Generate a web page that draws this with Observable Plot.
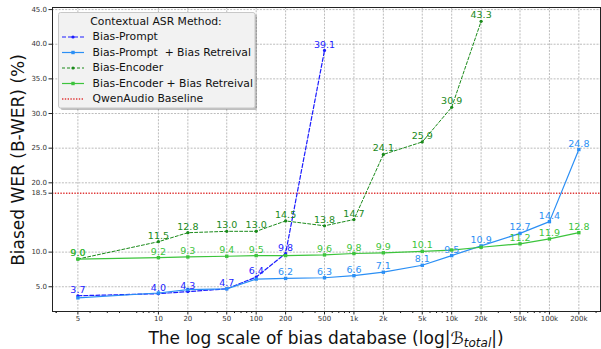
<!DOCTYPE html>
<html>
<head>
<meta charset="utf-8">
<script src="https://cdn.jsdelivr.net/npm/d3@7"></script>
<script src="https://cdn.jsdelivr.net/npm/@observablehq/plot@0.6"></script>
<style>
  html, body { margin: 0; padding: 0; background: #fff; }
  svg { display: block; }
</style>
</head>
<body>
<div id="chart"></div>
<script>
// ---------------- data ----------------
const sizes = [5, 10, 20, 50, 100, 200, 500, 1000, 2000, 5000, 10000, 20000, 50000, 100000, 200000];
const sizeLabels = ["5", "10", "20", "50", "100", "200", "500", "1k", "2k", "5k", "10k", "20k", "50k", "100k", "200k"];

const biasPrompt = [3.7, 4.0, 4.3, 4.7, 6.4, 9.8, 39.1];
const biasPromptRetrieval = [3.4, 4.1, 4.6, 4.7, 6.1, 6.2, 6.3, 6.6, 7.1, 8.1, 9.5, 10.9, 12.7, 14.4, 24.8];
const biasEncoder = [9.0, 11.5, 12.8, 13.0, 13.0, 14.5, 13.8, 14.7, 24.1, 25.9, 30.9, 43.3];
const biasEncoderRetrieval = [9.0, 9.2, 9.3, 9.4, 9.5, 9.5, 9.6, 9.8, 9.9, 10.1, 10.3, 10.7, 11.2, 11.9, 12.8];
const baselineWER = 18.5;
const seriesNames = ["Bias-Prompt", "Bias-Prompt  + Bias Retreival", "Bias-Encoder", "Bias-Encoder + Bias Retreival", "QwenAudio Baseline"];
const yTicks = [5, 10, 18.5, 20, 25, 30, 35, 40, 45];

// ---------------- helpers ----------------
// In the reference the "5" category sits at log position ~1.5 on the log axis.
const axisPos = s => (s === 5 ? 1.5 : s);
const xTickPos = sizes.map(axisPos);
const labelOf = new Map(xTickPos.map((p, i) => [p, sizeLabels[i]]));

const minorTicks = [];
for (let k = -1; k <= 5; k++) for (let m = 2; m <= 9; m++) {
  const v = m * Math.pow(10, k);
  if (v >= 0.85 && v <= 333000 && !sizes.includes(v)) minorTicks.push(v);
}
minorTicks.push(0.9);

const styles = [
  {color: "#1c1cff", dash: "4,2", width: 1.2, symbol: "circle"},
  {color: "#2b8ff5", dash: null, width: 1.2, symbol: "square"},
  {color: "#1a8a1a", dash: "3,2", width: 1.0, symbol: "circle"},
  {color: "#3cc43c", dash: null, width: 1.2, symbol: "square"}
];
const hiddenLabels = [[], [0, 1, 2, 3, 4], [], [5, 10, 11]];

const allSeries = [biasPrompt, biasPromptRetrieval, biasEncoder, biasEncoderRetrieval];
const rows = allSeries.map((vals, si) => vals.map((v, i) => ({
  series: si, size: sizes[i], pos: axisPos(sizes[i]), v, showLabel: !hiddenLabels[si].includes(i)
})));

const lineMarks = [];
rows.forEach((data, si) => {
  const s = styles[si];
  lineMarks.push(Plot.line(data, {x: "pos", y: "v", stroke: s.color, strokeWidth: s.width, strokeDasharray: s.dash}));
  lineMarks.push(Plot.dot(data, {x: "pos", y: "v", fill: s.color, stroke: "none", symbol: s.symbol, r: s.symbol === "square" ? 1.9 : 1.6}));
});
const labelMarks = rows.map((data, si) => Plot.text(data.filter(d => d.showLabel), {
  x: "pos", y: "v", text: d => d.v.toFixed(1), dy: -6, fill: styles[si].color, fontSize: 9.5
}));

const chart = Plot.plot({
  width: 601,
  height: 349,
  marginLeft: 52,
  marginRight: 1,
  marginTop: 7,
  marginBottom: 38,
  style: {fontFamily: "DejaVu Sans, sans-serif", background: "white", color: "#222"},
  x: {type: "log", domain: [0.825, 333000]},
  y: {type: "linear", domain: [1.43, 45.3]},
  marks: [
    Plot.gridX({ticks: xTickPos, stroke: "#b4b4b4", strokeOpacity: 1, strokeWidth: 0.9, strokeDasharray: "2,1.3"}),
    Plot.gridY({ticks: yTicks.filter(t => t !== baselineWER), stroke: "#b4b4b4", strokeOpacity: 1, strokeWidth: 0.9, strokeDasharray: "2,1.3"}),
    Plot.ruleY([baselineWER], {stroke: "#e03a3a", strokeWidth: 1.4, strokeDasharray: "1.4,1.4"}),
    ...lineMarks,
    ...labelMarks,
    Plot.frame({stroke: "#222", strokeWidth: 1}),
    Plot.axisX({ticks: xTickPos, tickFormat: () => "", tickSize: 3.5, label: null, stroke: "#222"}),
    Plot.text(xTickPos, {x: d => d, text: d => labelOf.get(d), frameAnchor: "bottom", dy: 9.5, fontSize: 7, fill: "#333"}),
    Plot.axisX({ticks: minorTicks, tickFormat: () => "", tickSize: 2, label: null, stroke: "#222"}),
    Plot.axisY({ticks: yTicks, tickFormat: d => d.toFixed(1), tickSize: 3.5, tickPadding: 2, fontSize: 7, label: null, stroke: "#222", fill: "#333"})
  ]
});

document.getElementById("chart").appendChild(chart);

// ---------------- axis titles and legend ----------------
const svg = d3.select(chart);
const font = "DejaVu Sans, sans-serif";

svg.append("text")
  .attr("transform", "translate(19,160) rotate(-90)")
  .attr("text-anchor", "middle").attr("dominant-baseline", "middle")
  .attr("font-family", font).attr("font-size", 17).attr("fill", "#111")
  .text("Biased WER (B-WER) (%)");

const xt = svg.append("text")
  .attr("x", 326).attr("y", 344)
  .attr("text-anchor", "middle")
  .attr("font-family", font).attr("font-size", 17).attr("fill", "#111");
xt.append("tspan").text("The log scale of bias database (log|");
xt.append("tspan").attr("font-style", "italic").text("\u212C");
xt.append("tspan").attr("font-style", "italic").attr("font-size", 12).attr("dy", 3).text("total");
xt.append("tspan").attr("dy", -3).text("|)");

const legendFont = 10.8;
const lg = svg.append("g").attr("text-anchor", "start");
lg.append("rect").attr("x", 60.5).attr("y", 14.5).attr("width", 196.5).attr("height", 95.5)
  .attr("rx", 2).attr("fill", "#000").attr("fill-opacity", 0.25);
lg.append("rect").attr("x", 58.5).attr("y", 12.5).attr("width", 196.5).attr("height", 95.5)
  .attr("rx", 2).attr("fill", "#f2f2f2").attr("stroke", "#c8c8c8");
lg.append("text").attr("x", 156).attr("y", 22).attr("text-anchor", "middle").attr("dominant-baseline", "middle")
  .attr("font-family", font).attr("font-size", legendFont).attr("fill", "#111").text("Contextual ASR Method:");
const rowY = [37, 52.5, 68, 83.5, 99];
styles.forEach((s, i) => {
  const y = rowY[i];
  lg.append("line").attr("x1", 62).attr("x2", 84).attr("y1", y).attr("y2", y)
    .attr("stroke", s.color).attr("stroke-width", s.width).attr("stroke-dasharray", s.dash);
  if (s.symbol === "square") lg.append("rect").attr("x", 71.3).attr("y", y - 1.7).attr("width", 3.4).attr("height", 3.4).attr("fill", s.color);
  else lg.append("circle").attr("cx", 73).attr("cy", y).attr("r", 1.6).attr("fill", s.color);
  lg.append("text").attr("x", 92.5).attr("y", y).attr("text-anchor", "start").attr("dominant-baseline", "middle")
    .attr("font-family", font).attr("font-size", legendFont).attr("fill", "#111").text(seriesNames[i]);
});
lg.append("line").attr("x1", 62).attr("x2", 84).attr("y1", rowY[4]).attr("y2", rowY[4])
  .attr("stroke", "#e03a3a").attr("stroke-width", 1.4).attr("stroke-dasharray", "1.4,1.4");
lg.append("text").attr("x", 92.5).attr("y", rowY[4]).attr("text-anchor", "start").attr("dominant-baseline", "middle")
  .attr("font-family", font).attr("font-size", legendFont).attr("fill", "#111").text(seriesNames[4]);
</script>
</body>
</html>
